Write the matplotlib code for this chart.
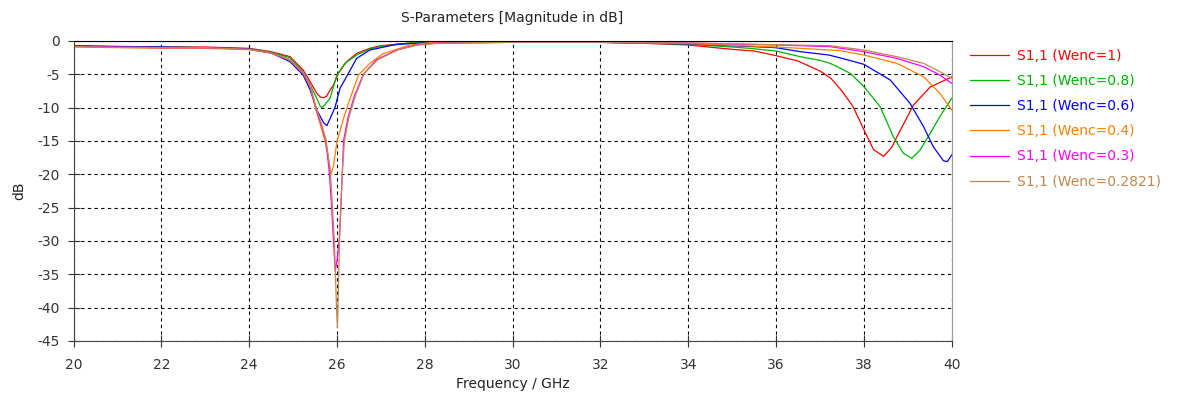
import matplotlib
matplotlib.use("Agg")
import matplotlib.pyplot as plt

plt.rcParams['font.family'] = ['DejaVu Sans']
plt.rcParams['axes.unicode_minus'] = False

labels = ["S1,1 (Wenc=1)", "S1,1 (Wenc=0.8)", "S1,1 (Wenc=0.6)",
          "S1,1 (Wenc=0.4)", "S1,1 (Wenc=0.3)", "S1,1 (Wenc=0.2821)"]
colors = ["#FF0000", "#00B400", "#0000FF", "#FF8000", "#FF00FF", "#C08850"]

f_red = [20, 21, 22, 23, 24, 24.5, 24.93, 25.23, 25.39, 25.54, 25.62, 25.7, 25.76, 25.85, 25.92,
         26.03, 26.22, 26.45, 26.75, 27.0, 27.67, 28.5, 30, 32, 33, 34, 34.3, 35, 35.5, 36, 36.5,
         37, 37.25, 37.5, 37.75, 38.0, 38.22, 38.45, 38.64, 38.75, 39.13, 39.51, 40]
s_red = [-0.7, -0.8, -0.9, -0.9, -1.1, -1.6, -2.35, -4.35, -6.1, -7.85, -8.4, -8.5, -8.3, -7.3, -6.6,
         -4.85, -3.1, -1.85, -1.1, -0.7, -0.3, -0.2, -0.15, -0.2, -0.35, -0.6, -0.8, -1.25, -1.5, -2.2, -3.0,
         -4.5, -5.6, -7.5, -9.8, -13.3, -16.3, -17.3, -15.9, -14.4, -9.6, -6.9, -5.4]

f_green = [20, 21, 22, 23, 24, 24.5, 24.93, 25.23, 25.39, 25.54, 25.62, 25.66, 25.72, 25.84, 26.0,
           26.18, 26.45, 26.75, 27.0, 27.67, 28.5, 30, 32, 33, 34, 35, 35.4, 36, 36.55, 37, 37.23,
           37.5, 37.7, 38.0, 38.37, 38.67, 38.9, 39.09, 39.28, 39.51, 39.73, 40]
s_green = [-0.8, -0.85, -0.9, -1.0, -1.15, -1.7, -2.5, -4.6, -6.6, -8.6, -9.8, -10.0, -9.6, -8.6, -5.1,
           -3.35, -2.1, -1.2, -0.8, -0.3, -0.2, -0.15, -0.2, -0.3, -0.5, -0.9, -1.1, -1.5, -2.35, -2.9, -3.35,
           -4.2, -4.9, -6.85, -9.85, -14.35, -16.85, -17.6, -16.35, -13.85, -11.35, -8.6]

f_blue = [20, 21, 22, 23, 24, 24.5, 24.93, 25.23, 25.39, 25.54, 25.7, 25.77, 25.88, 25.96, 26.07,
          26.26, 26.45, 26.75, 27.36, 28, 30, 32, 33, 34, 35, 36, 36.55, 37.2, 37.5, 38.0, 38.6,
          39.05, 39.36, 39.58, 39.81, 39.9, 40]
s_blue = [-0.75, -0.85, -0.9, -1.0, -1.2, -1.8, -3.1, -5.1, -7.35, -10.35, -12.3, -12.7, -11.1, -9.85, -7.1,
          -4.85, -2.6, -1.35, -0.5, -0.3, -0.2, -0.2, -0.3, -0.45, -0.7, -1.0, -1.6, -2.1, -2.6, -3.5, -5.85,
          -9.35, -12.85, -15.85, -17.95, -18.1, -17.1]

f_orange = [20, 21, 22, 23, 24, 24.5, 24.93, 25.23, 25.39, 25.5, 25.62, 25.73, 25.8, 25.86, 25.92,
            26.0, 26.15, 26.3, 26.49, 26.75, 27.05, 27.67, 28.1, 30, 32, 33, 34, 36, 36.55, 37.46,
            38.0, 38.75, 39.36, 39.73, 40]
s_orange = [-0.9, -1.0, -1.1, -1.1, -1.3, -1.8, -2.9, -4.8, -6.8, -9.85, -12.5, -15.0, -17.5, -20.0, -18.8,
            -15.1, -11.6, -8.6, -5.1, -3.35, -1.9, -0.6, -0.25, -0.2, -0.2, -0.3, -0.4, -0.9, -1.1, -1.45,
            -2.1, -3.35, -5.35, -7.85, -10.35]

f_magenta = [20, 21, 22, 23, 24, 24.5, 24.93, 25.23, 25.39, 25.52, 25.65, 25.75, 25.83, 25.88, 25.92,
             25.96, 26.0, 26.05, 26.09, 26.12, 26.15, 26.25, 26.4, 26.6, 26.9, 27.36, 27.8, 28.3, 30,
             32, 33, 34, 36, 37.23, 38.0, 38.75, 39.36, 39.73, 40]
s_magenta = [-0.8, -0.9, -1.0, -1.0, -1.25, -1.8, -2.8, -4.7, -6.8, -10.0, -12.8, -15.0, -20.0, -25.0, -30.0,
             -34.5, -33.0, -30.0, -25.0, -20.0, -15.0, -11.5, -8.2, -5.0, -2.8, -1.35, -0.6, -0.3, -0.2,
             -0.2, -0.25, -0.3, -0.6, -0.85, -1.6, -2.6, -3.85, -5.1, -6.35]

f_brown = [20, 21, 22, 23, 24, 24.5, 24.93, 25.23, 25.39, 25.52, 25.65, 25.75, 25.85, 25.94, 25.99,
           26.01, 26.03, 26.06, 26.09, 26.13, 26.17, 26.27, 26.42, 26.62, 26.93, 27.4, 27.85, 28.4, 30,
           32, 33, 34, 36, 37.23, 38.0, 38.75, 39.36, 39.73, 40]
s_brown = [-0.85, -0.95, -1.0, -1.0, -1.25, -1.8, -2.8, -4.7, -6.7, -9.8, -12.5, -14.8, -19.5, -30.0, -40.0,
           -43.0, -38.0, -30.0, -24.0, -19.0, -15.0, -11.5, -8.2, -4.85, -2.8, -1.3, -0.6, -0.3, -0.2,
           -0.2, -0.25, -0.3, -0.55, -0.7, -1.35, -2.35, -3.35, -4.6, -5.6]

series = [(f_red, s_red), (f_green, s_green), (f_blue, s_blue),
          (f_orange, s_orange), (f_magenta, s_magenta), (f_brown, s_brown)]

x_ticks = [20, 22, 24, 26, 28, 30, 32, 34, 36, 38, 40]
y_ticks = [0, -5, -10, -15, -20, -25, -30, -35, -40, -45]

W, H = 1182, 397
fig = plt.figure(figsize=(W / 100, H / 100), dpi=100)
ax = fig.add_axes([73.5 / W, 1 - 341 / H, (951.7 - 73.5) / W, (341 - 41) / H])

for (f, s), c, lab in zip(series, colors, labels):
    ax.plot(f, s, color=c, lw=0.9, label=lab)

ax.set_xlim(20, 40)
ax.set_ylim(-45, 0)
ax.set_xticks(x_ticks)
ax.set_yticks(y_ticks)
ax.set_xticklabels([str(v) for v in x_ticks])
ax.set_yticklabels([str(v) for v in y_ticks])
ax.grid(True, color='black', linestyle=(0, (3, 3)), linewidth=0.8)
ax.tick_params(direction='inout', length=8, width=0.8, labelsize=10, colors='#333333')
ax.tick_params(axis='x', pad=8)
ax.tick_params(axis='y', pad=6)
for sp in ['left', 'bottom']:
    ax.spines[sp].set_color('#444444')
ax.spines['top'].set_color('black')
ax.spines['right'].set_color('#999999')

ax.set_title("S-Parameters [Magnitude in dB]", fontsize=10, color='#222222', pad=14)
ax.set_xlabel("Frequency / GHz", fontsize=10, color='#222222', labelpad=4)
ax.set_ylabel("dB", fontsize=10, color='#222222', labelpad=8)

fig.legend(loc='upper left', bbox_to_anchor=(970 / W, 1 - 49 / H), frameon=False,
           fontsize=10, labelcolor='linecolor', handlelength=2.8, handletextpad=0.6,
           labelspacing=0.8, borderpad=0, borderaxespad=0)

fig.savefig("out.png", dpi=100)
